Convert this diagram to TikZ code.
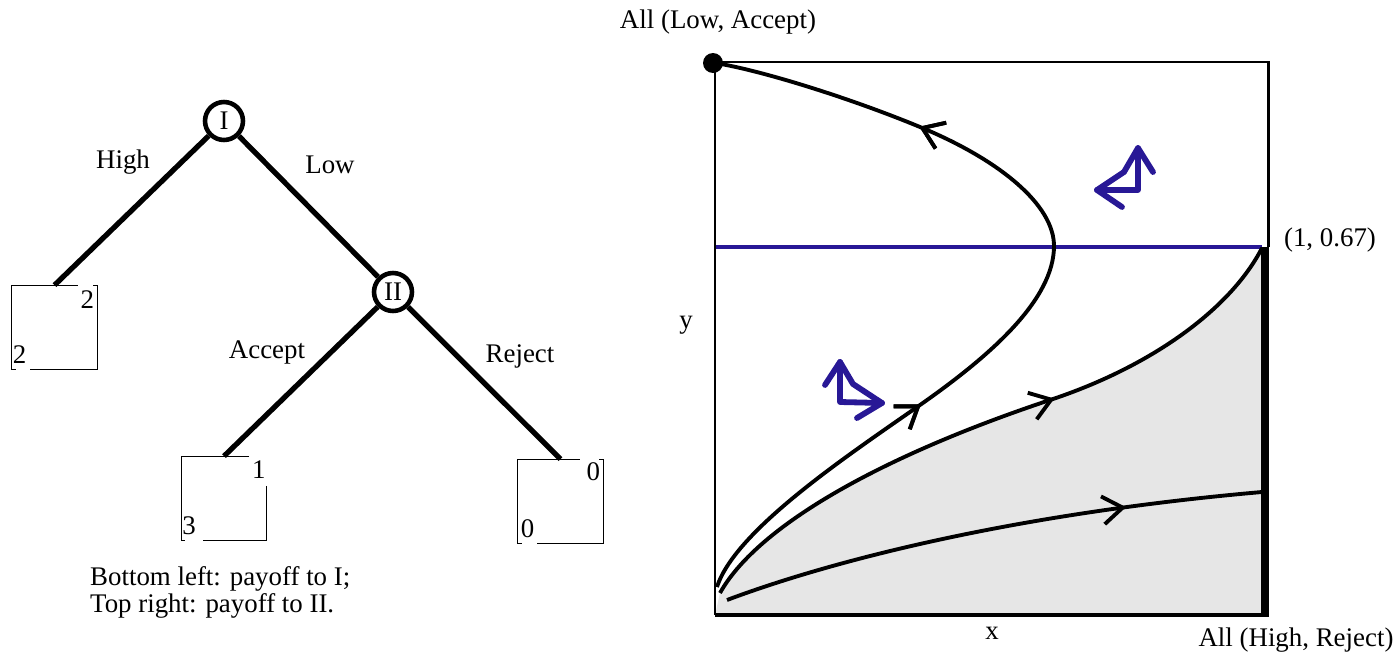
\documentclass[tikz,border=0pt]{standalone}
\usepackage{fontspec}
\setmainfont{Liberation Serif}
\usepackage{tikz}
\usetikzlibrary{arrows.meta, decorations.markings}
\definecolor{flowblue}{RGB}{40,24,150}
\definecolor{basinfill}{RGB}{230,230,230}
\tikzstyle{player} = [
  circle, draw, line width=2.6pt,
  minimum size=0.76cm, inner sep=0pt
]
\tikzstyle{payoff} = [
  rectangle, minimum width=1.7cm, minimum height=1.68cm, inner sep=0pt
]
\tikzstyle{branch} = [line width=3pt]
\tikzstyle{boxline} = [line width=0.7pt]
\tikzstyle{frame} = [line width=1.7pt]
\tikzstyle{orbit} = [line width=2.2pt]
\tikzstyle{flow} = [flowblue, line width=3.3pt, line cap=round, line join=round]
\tikzset{
  midarrow/.style={
    decoration={markings,
      mark=at position #1 with {\arrow[line width=2.2pt]{Straight Barb[length=4mm,width=5.6mm]}}},
    postaction=decorate}
}

\begin{document}
\begin{tikzpicture}[x=0.02cm, y=-0.02cm, font=\fontsize{15.3}{18}\selectfont]
  \useasboundingbox (0,0) rectangle (1394,660);

  % game tree
  \node[player] (one) at (224,121) {I};
  \node[player] (two) at (393,292) {II};

  \node[payoff] (high) at (54.5,327.5) {};
  \node[payoff] (accept) at (224,498.5) {};
  \node[payoff] (reject) at (560.5,501.5) {};

  \draw[branch] (one) -- (high.north);
  \draw[branch] (one) -- (two);
  \draw[branch] (two) -- (accept.north);
  \draw[branch] (two) -- (reject.north);

  \node at (123,162) {High};
  \node at (330,165) {Low};
  \node at (267,352) {Accept};
  \node at (520,356) {Reject};

  % payoff boxes
  \draw[boxline] (high.north west) ++(66,0) -- (high.north west) -- (high.south west) -- ++(4,0);
  \draw[boxline] (high.north east) ++(-4,0) -- (high.north east) -- (high.south east) -- ++(-67,0);
  \node (high2) at ([shift={(-10,14)}]high.north east) {2};
  \node (high1) at ([shift={(8,-15)}]high.south west) {2};

  \draw[boxline] (accept.north west) ++(68,0) -- (accept.north west) -- (accept.south west) -- ++(4,0);
  \draw[boxline] (accept.south east) ++(0,-55) -- (accept.south east) -- ++(-64,0);
  \node (accept2) at ([shift={(-8,13)}]accept.north east) {1};
  \node (accept1) at ([shift={(8,-15)}]accept.south west) {3};

  \draw[boxline] (reject.north west) ++(62,0) -- (reject.north west) -- (reject.south west) -- ++(4,0);
  \draw[boxline] (reject.north east) ++(-4,0) -- (reject.north east) -- (reject.south east) -- ++(-66,0);
  \node (reject2) at ([shift={(-10,13)}]reject.north east) {0};
  \node (reject1) at ([shift={(10,-15)}]reject.south west) {0};

  \node[anchor=west] (note1) at (84,579) {Bottom left: payoff to I;};
  \node[anchor=west] (note2) at (84,606) {Top right: payoff to II.};

  % phase diagram
  \coordinate (o) at (715,615);
  \coordinate (top) at (1262,248);
  \fill[basinfill] (o) -- (720,593) .. controls (755,530) and (870,460) .. (1050,400)
    .. controls (1150,367) and (1230,310) .. (top) -- (1262,615) -- cycle;

  \draw[flowblue, line width=2.6pt] (715,247) -- (1262,247);

  \draw[orbit, midarrow=0.31, midarrow=0.76]
    (717,587) .. controls (735,530) and (850,454) .. (920,405)
    .. controls (990,356) and (1054,300) .. (1054,246)
    .. controls (1054,205) and (1000,160) .. (920,127)
    .. controls (850,98) and (760,70) .. (715,63);
  \draw[orbit, midarrow=0.6]
    (720,593) .. controls (755,530) and (870,460) .. (1050,400)
    .. controls (1150,367) and (1230,310) .. (top);
  \draw[orbit, midarrow=0.75]
    (727,600) .. controls (820,565) and (1000,515) .. (1262,492);

  \draw[frame] (715,62) -- (1268,62) -- (1268,247);
  \draw[frame] (715,62) -- (o);
  \draw[line width=2.8pt] (o) -- (1268,615);
  \draw[line width=5pt] (1265,247) -- (1265,617);
  \node[circle, fill, inner sep=0pt, minimum size=0.4cm] (lowaccept) at (713,63) {};

  \draw[flow] (825,385) -- (840,362) -- (840,402) -- (882,403) -- (857,418);
  \draw[flow] (840,362) -- (853,384) -- (882,403);
  \draw[flow] (1124,172) -- (1138,148) -- (1153,172);
  \draw[flow] (1138,148) -- (1138,190) -- (1097,190) -- (1122,207);
  \draw[flow] (1097,190) -- (1124,172);

  \node (alllow) at (718,22) {All (Low, Accept)};
  \node (corner) at (1330,240) {(1, 0.67)};
  \node (ylab) at (686,325) {y};
  \node (xlab) at (992,633) {x};
  \node (allhigh) at (1296,640) {All (High, Reject)};
\end{tikzpicture}
\end{document}
